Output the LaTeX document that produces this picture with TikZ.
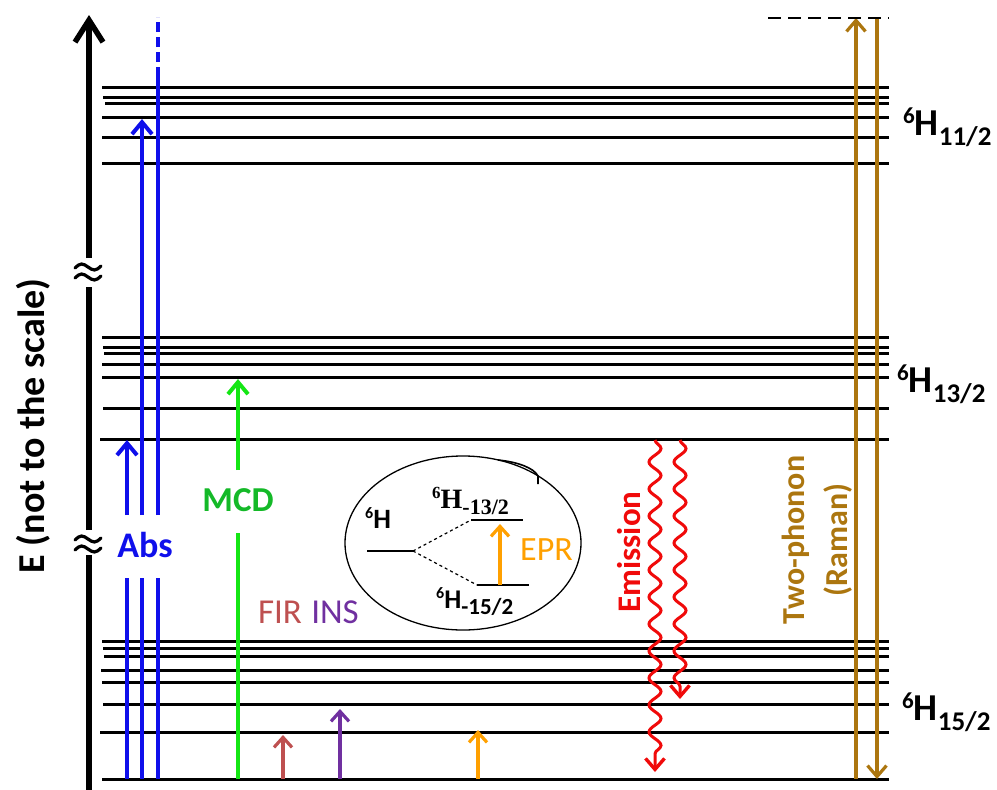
\documentclass[tikz,border=0pt]{standalone}
\usepackage{fontspec}
\setmainfont{Carlito}
\newfontfamily\serifb{Liberation Serif}
\usetikzlibrary{arrows.meta,decorations.pathmorphing,shapes.geometric}
\definecolor{absblue}{RGB}{15,15,235}
\definecolor{mcdline}{RGB}{20,230,20}
\definecolor{mcdtext}{RGB}{20,185,40}
\definecolor{firc}{RGB}{190,80,80}
\definecolor{insc}{RGB}{112,48,160}
\definecolor{eprc}{RGB}{255,160,0}
\definecolor{emc}{RGB}{240,10,10}
\definecolor{ramc}{RGB}{172,118,15}
\newcommand{\Hlab}[1]{\raisebox{12pt}{\fontsize{23}{23}\selectfont 6}\fontsize{38}{38}\selectfont H\raisebox{-10pt}{\fontsize{27}{27}\selectfont #1}}
\begin{document}
\begin{tikzpicture}[x=1pt,y=-1pt,
  level/.style={line width=3pt,black},
  trans/.style={line width=4pt},
  uparrow/.style={line width=4pt,-{Straight Barb[length=12pt,width=20pt,line width=4pt]}},
  smallarrow/.style={line width=3.2pt,-{Straight Barb[length=10pt,width=18pt,line width=3.2pt]}},
  wave/.style={line width=3pt,emc,decorate,decoration={snake,amplitude=6pt,segment length=27pt,post length=12pt},-{Straight Barb[length=11pt,width=19pt,line width=3.4pt]}},
  brk/.style={line width=3.2pt,line cap=round},
  lab/.style={inner sep=0pt,font=\bfseries}
]
\useasboundingbox (0,0) rectangle (997,790);
% energy axis
\coordinate (ax0) at (89,795);
\coordinate (ax1) at (89,555);
\coordinate (ax2) at (89,530);
\coordinate (ax3) at (89,287);
\coordinate (ax4) at (89,258);
\coordinate (axtop) at (89,15);
\draw[line width=5.5pt] (ax0) -- (ax1);
\draw[line width=5.5pt] (ax2) -- (ax3);
\draw[line width=5.5pt,-{Straight Barb[length=22pt,width=28pt,line width=5.5pt]}] (ax4) -- (axtop);
% break marks
\foreach \yc in {272,544}{
  \foreach \dy in {-5,5}{
    \draw[brk] (75,\yc+\dy+1) sin (81.5,\yc+\dy-3) cos (88,\yc+\dy) sin (94.5,\yc+\dy+3) cos (101,\yc+\dy-1);
  }
}
\node[lab,rotate=90] (elab) at (33,426) {\fontsize{38}{38}\selectfont E (not to the scale)};
% levels
\foreach \y/\x in {87/102,97/103,103/105,117/102,137/102,163/102,
                   337/102,347/103,353/104,364/102,377/102,408/103,439/100,
                   641/102,648/103,656/104,670/101,682/102,704/103,732/100,779/102}
  \draw[level] (\x,\y) -- (889,\y);
% level labels
\node[lab,anchor=base west] (l11) at (903,135) {\Hlab{11/2}};
\node[lab,anchor=base west] (l13) at (897,392) {\Hlab{13/2}};
\node[lab,anchor=base west] (l15) at (902,720) {\Hlab{15/2}};
% Abs
\draw[trans,absblue] (127,779) -- (127,578);
\draw[uparrow,absblue] (127,515) -- (127,440);
\draw[trans,absblue] (142,779) -- (142,578);
\draw[uparrow,absblue] (142,515) -- (142,119);
\draw[trans,absblue] (158,779) -- (158,578);
\draw[trans,absblue] (158,515) -- (158,77);
\draw[trans,absblue,dash pattern=on 10pt off 5pt] (158,77) -- (158,17);
\node[lab,text=absblue] (abs) at (145,545) {\fontsize{36}{36}\selectfont Abs};
% MCD
\draw[trans,mcdline] (238,779) -- (238,533);
\draw[uparrow,mcdline] (238,470) -- (238,379);
\node[lab,text=mcdtext] (mcd) at (238,500) {\fontsize{35}{35}\selectfont MCD};
% FIR, INS, EPR small arrows
\draw[smallarrow,firc] (283,779) -- (283,735);
\draw[smallarrow,insc] (340,779) -- (340,709);
\draw[smallarrow,eprc] (478,779) -- (478,730);
\node[inner sep=0pt,text=firc,anchor=base] (fir) at (280,623) {\fontsize{35}{35}\selectfont FIR};
\node[inner sep=0pt,text=insc,anchor=base] (ins) at (335,623) {\fontsize{35}{35}\selectfont INS};
% inset
\node[draw,line width=1.3pt,ellipse,minimum width=236pt,minimum height=174pt,inner sep=0pt] (ell) at (463,543) {};
\draw[line width=1.6pt] (498,460) .. controls (518,462) and (534,468) .. (538,476) -- (538,484);
\coordinate (g0) at (367,551);
\coordinate (g1) at (413,551);
\coordinate (u0) at (471,520);
\coordinate (u1) at (523,520);
\coordinate (d0) at (477,585);
\coordinate (d1) at (529,585);
\draw[line width=2.4pt] (g0) -- (g1);
\draw[line width=2.4pt] (u0) -- (u1);
\draw[line width=2.4pt] (d0) -- (d1);
\draw[line width=1.2pt,dashed] (g1) -- (u0);
\draw[line width=1.2pt,dashed] (g1) -- (d0);
\draw[line width=3.2pt,eprc,-{Straight Barb[length=10pt,width=18pt,line width=3.2pt]}] (500,585) -- (500,524);
\node[inner sep=0pt,anchor=base west] (hg) at (365,528) {\bfseries\raisebox{10pt}{\fontsize{16}{16}\selectfont 6}\fontsize{28}{28}\selectfont H};
\node[inner sep=0pt,anchor=base west] (hu) at (432,508) {\serifb\bfseries\raisebox{10pt}{\fontsize{17}{17}\selectfont 6}\fontsize{28}{28}\selectfont H\raisebox{-6pt}{\fontsize{22}{22}\selectfont -13/2}};
\node[inner sep=0pt,anchor=base west] (hd) at (436,608) {\bfseries\raisebox{10pt}{\fontsize{16}{16}\selectfont 6}\fontsize{27}{27}\selectfont H\raisebox{-6pt}{\fontsize{23}{23}\selectfont -15/2}};
\node[inner sep=0pt,text=eprc,anchor=base west] (epr) at (520,560) {\fontsize{34}{34}\selectfont EPR};
% emission
\draw[wave] (655,440) -- (655,772);
\draw[wave] (680,440) -- (680,699);
\node[lab,text=emc,rotate=90] (em) at (629,552) {\fontsize{33}{33}\selectfont Emission};
% two-phonon
\coordinate (rb) at (856,779);
\coordinate (rt) at (856,18);
\coordinate (rt2) at (877,18);
\coordinate (rb2) at (877,779);
\draw[line width=3.2pt,ramc,-{Straight Barb[length=11pt,width=19pt,line width=3.2pt]}] (rb) -- (rt);
\draw[line width=3.2pt,ramc,-{Straight Barb[length=11pt,width=19pt,line width=3.2pt]}] (rt2) -- (rb2);
\draw[line width=2.5pt,dash pattern=on 13pt off 7pt] (768,18) -- (889,18);
\node[lab,text=ramc,rotate=90] (tp) at (796,540) {\fontsize{32}{32}\selectfont Two-phonon};
\node[lab,text=ramc,rotate=90] (rm) at (838,540) {\fontsize{32}{32}\selectfont (Raman)};
\end{tikzpicture}
\end{document}
